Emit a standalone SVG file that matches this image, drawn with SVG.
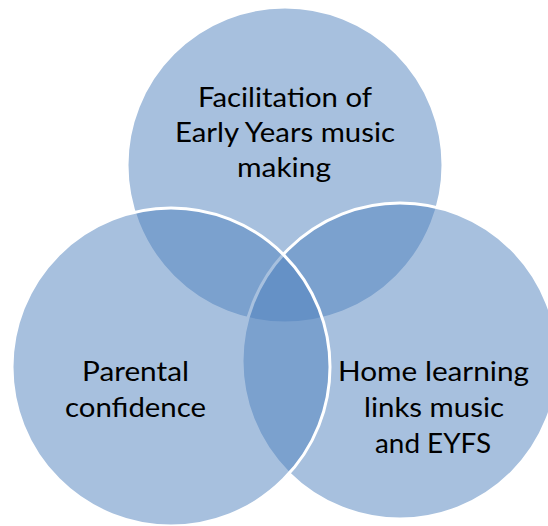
<svg xmlns="http://www.w3.org/2000/svg" width="548" height="526" viewBox="0 0 548 526">
  <style>
    .c { fill: #4f81bd; fill-opacity: 0.5; stroke: #ffffff; stroke-width: 3; }
    .t { font-family: Lato, "Open Sans", "Liberation Sans", sans-serif; font-size: 26px; fill: #000000; text-anchor: middle; }
  </style>
  <rect x="0" y="0" width="548" height="526" fill="#ffffff"/>
  <g id="node-top">
    <circle class="c" cx="285" cy="165" r="158"/>
    <text class="t" x="285" y="107" textLength="174" lengthAdjust="spacingAndGlyphs">Facilitation of</text>
    <text class="t" x="285" y="142" textLength="220" lengthAdjust="spacingAndGlyphs">Early Years music</text>
    <text class="t" x="284" y="177" textLength="94" lengthAdjust="spacingAndGlyphs">making</text>
  </g>
  <g id="node-right">
    <circle class="c" cx="400" cy="361" r="158"/>
  </g>
  <g id="node-left">
    <circle class="c" cx="171" cy="367" r="159"/>
  </g>
  <g id="labels-lower">
    <text class="t" x="135.5" y="381" textLength="107" lengthAdjust="spacingAndGlyphs">Parental</text>
    <text class="t" x="135.5" y="417" textLength="141" lengthAdjust="spacingAndGlyphs">confidence</text>
    <text class="t" x="433.5" y="381" textLength="191" lengthAdjust="spacingAndGlyphs">Home learning</text>
    <text class="t" x="434" y="417" textLength="140" lengthAdjust="spacingAndGlyphs">links music</text>
    <text class="t" x="433" y="453" textLength="116" lengthAdjust="spacingAndGlyphs">and EYFS</text>
  </g>
  <g id="connectors"></g>
</svg>
